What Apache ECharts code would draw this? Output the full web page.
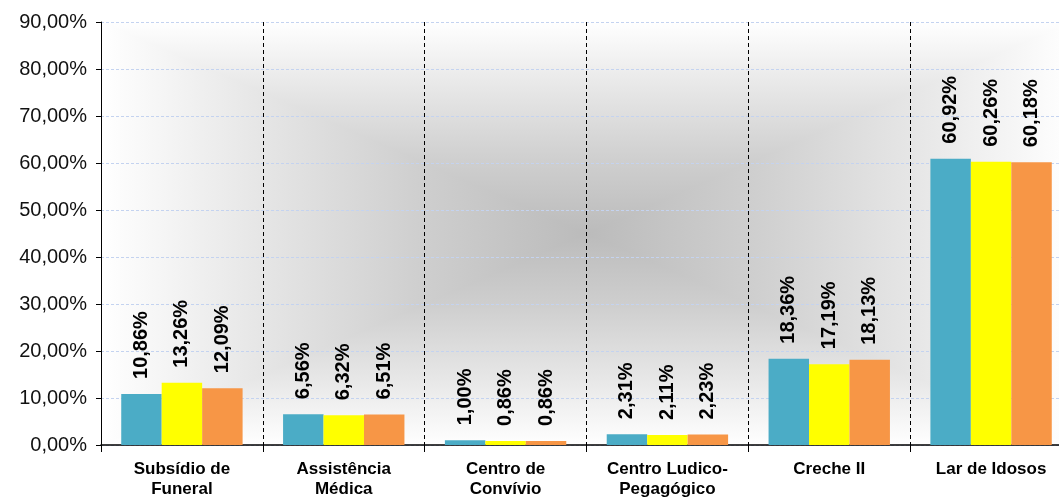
<!DOCTYPE html>
<html>
<head>
<meta charset="utf-8">
<script src="https://cdn.jsdelivr.net/npm/echarts@6/dist/echarts.min.js"></script>
<style>
  html, body { margin: 0; padding: 0; background: #fff; }
  #chart { width: 1059px; height: 497px; }
</style>
</head>
<body>
<div id="chart"></div>
<script>
// categorias (eixo x)
var categories = ["Subsídio de\nFuneral", "Assistência\nMédica", "Centro de\nConvívio", "Centro Ludico-\nPegagógico", "Creche II", "Lar de Idosos"];
// valores em % por série
var serie1 = [10.86, 6.56, 1.00, 2.31, 18.36, 60.92];
var serie2 = [13.26, 6.32, 0.86, 2.11, 17.19, 60.26];
var serie3 = [12.09, 6.51, 0.86, 2.23, 18.13, 60.18];
var seriesNames = ["Série 1", "Série 2", "Série 3"];
var seriesColors = ["#4bacc6", "#ffff00", "#f79646"];
// eixo y
var yMin = 0, yMax = 90, yStep = 10;

var chart = echarts.init(document.getElementById("chart"));

// area do grafico (px) - o lado direito fica cortado
var gx0 = 101, gy0 = 22, gx1 = 1072, gy1 = 445;
var cx = (gx0 + gx1) / 2, cy = (gy0 + gy1) / 2;

function fmtPct(v) {
    return v.toFixed(2).replace(".", ",") + "%";
}

// fundo com gradiente (4 triangulos -> efeito "path gradient")
function bgGrad(x, y, x2, y2) {
    return {
        type: "linear", x: x, y: y, x2: x2, y2: y2,
        colorStops: [
            { offset: 0, color: "#ffffff" },
            { offset: 0.3, color: "#e8e8e8" },
            { offset: 0.65, color: "#cfcfcf" },
            { offset: 1, color: "#bbbbbb" }
        ]
    };
}
function bgTri(points, g) {
    return {
        type: "polygon", z: -10, silent: true,
        shape: { points: points },
        style: { fill: g, stroke: g, lineWidth: 1.5 }
    };
}
var bgElements = [
    bgTri([[gx0, gy0], [gx1, gy0], [cx, cy]], bgGrad(0, 0, 0, 1)),
    bgTri([[gx0, gy1], [gx1, gy1], [cx, cy]], bgGrad(0, 1, 0, 0)),
    bgTri([[gx0, gy0], [gx0, gy1], [cx, cy]], bgGrad(0, 0, 1, 0)),
    bgTri([[gx1, gy0], [gx1, gy1], [cx, cy]], bgGrad(1, 0, 0, 0))
];

var allData = [serie1, serie2, serie3];
var series = [];
for (var i = 0; i < allData.length; i++) {
    series.push({
        name: seriesNames[i],
        type: "bar",
        data: allData[i],
        barGap: "0%",
        barCategoryGap: "25%",
        itemStyle: { color: seriesColors[i] },
        label: {
            show: true,
            position: "top",
            rotate: 90,
            align: "left",
            verticalAlign: "middle",
            distance: 15,
            fontFamily: "Liberation Sans, Arial, sans-serif",
            fontWeight: "bold",
            fontSize: 20,
            color: "#000",
            formatter: function (p) { return fmtPct(p.value); }
        }
    });
}

var opt = {
    animation: false,
    backgroundColor: "#fff",
    graphic: { elements: bgElements },
    grid: {
        left: gx0, top: gy0, width: gx1 - gx0, height: gy1 - gy0,
        containLabel: false,
        outerBoundsMode: "none"
    },
    xAxis: {
        type: "category",
        data: categories,
        axisLine: { lineStyle: { color: "#000", width: 1.5 } },
        axisTick: { show: true, length: 7, lineStyle: { color: "#000" } },
        axisLabel: {
            interval: 0,
            margin: 14,
            fontFamily: "Liberation Sans, Arial, sans-serif",
            fontWeight: "bold",
            fontSize: 17,
            lineHeight: 20,
            color: "#000"
        },
        splitLine: { show: true, interval: 0, lineStyle: { color: "#000", type: [4, 3], width: 1 } }
    },
    yAxis: {
        type: "value",
        min: yMin,
        max: yMax,
        interval: yStep,
        axisLine: { show: true, lineStyle: { color: "#000", width: 1 } },
        axisTick: { show: true, length: 5, lineStyle: { color: "#000" } },
        axisLabel: {
            margin: 14,
            fontFamily: "Liberation Sans, Arial, sans-serif",
            fontSize: 20,
            color: "#111",
            formatter: function (v) { return fmtPct(v); }
        },
        splitLine: { show: true, lineStyle: { color: "#c4d3f0", type: [3, 2], width: 1 } }
    },
    series: series
};

console.log("opt", opt);
chart.setOption(opt);
</script>
</body>
</html>
